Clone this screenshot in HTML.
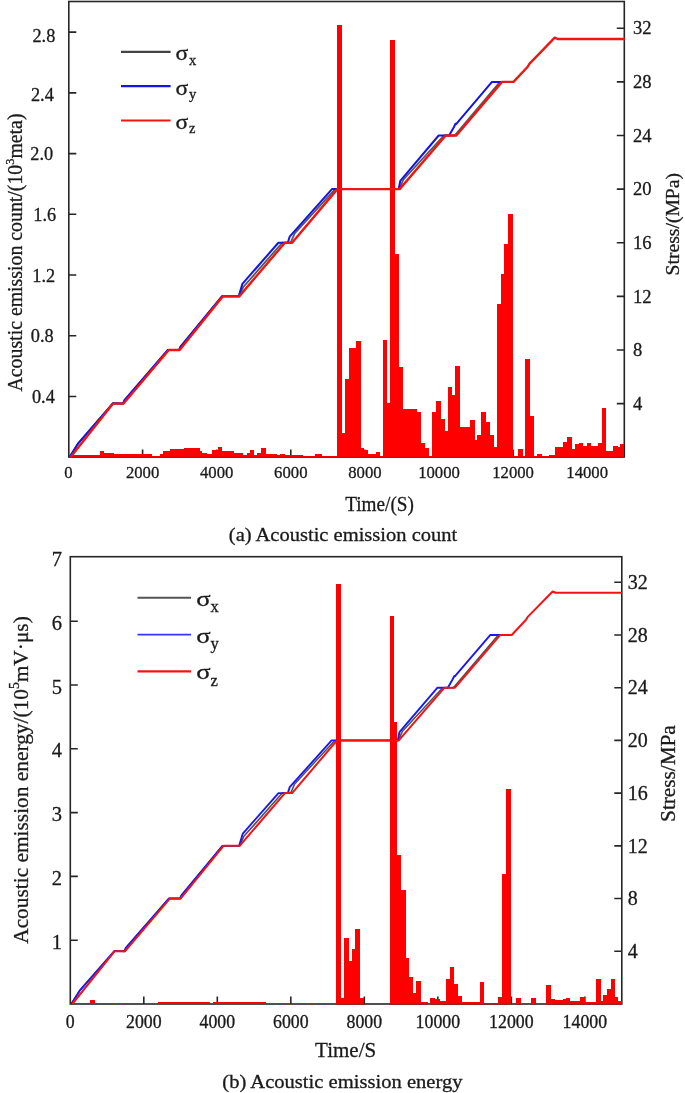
<!DOCTYPE html><html><head><meta charset="utf-8"><style>
html,body{margin:0;padding:0;background:#fff;}svg{display:block;will-change:transform;}
text{font-family:"Liberation Serif", serif;fill:#1a1a1a;stroke:#1a1a1a;stroke-width:0.3px;}
</style></head><body>
<svg width="685" height="1093" viewBox="0 0 685 1093">
<rect width="685" height="1093" fill="#fff"/>
<rect x="68.80" y="1.50" width="555.50" height="455.50" fill="none" stroke="#262626" stroke-width="1.6"/>
<path d="M142.60,457.00V449.50M216.70,457.00V449.50M290.80,457.00V449.50M364.90,457.00V449.50M439.00,457.00V449.50M513.10,457.00V449.50M587.20,457.00V449.50M68.80,396.48H76.30M68.80,335.76H76.30M68.80,275.04H76.30M68.80,214.32H76.30M68.80,153.60H76.30M68.80,92.88H76.30M68.80,32.16H76.30M624.30,403.58H616.80M624.30,349.97H616.80M624.30,296.35H616.80M624.30,242.74H616.80M624.30,189.12H616.80M624.30,135.50H616.80M624.30,81.89H616.80M624.30,28.27H616.80" stroke="#262626" stroke-width="1.6" fill="none"/>
<path d="M69.00,457.00H99.50V455.00H69.00ZM99.50,457.00H104.00V450.80H99.50ZM104.00,457.00H114.00V452.50H104.00ZM114.00,457.00H145.00V453.70H114.00ZM145.00,457.00H152.00V454.00H145.00ZM152.00,457.00H160.00V456.20H152.00ZM160.00,457.00H163.00V454.00H160.00ZM163.00,457.00H170.00V450.80H163.00ZM170.00,457.00H178.00V449.30H170.00ZM178.00,457.00H184.00V448.90H178.00ZM184.00,457.00H195.00V448.40H184.00ZM195.00,457.00H200.00V447.80H195.00ZM200.00,457.00H202.00V451.00H200.00ZM202.00,457.00H207.00V452.80H202.00ZM207.00,457.00H212.00V454.00H207.00ZM212.00,457.00H218.00V450.30H212.00ZM218.00,457.00H222.00V447.00H218.00ZM222.00,457.00H234.00V450.80H222.00ZM234.00,457.00H240.00V453.20H234.00ZM240.00,457.00H243.00V453.20H240.00ZM243.00,457.00H247.00V454.70H243.00ZM247.00,457.00H250.00V452.50H247.00ZM250.00,457.00H254.00V449.90H250.00ZM254.00,457.00H257.00V454.70H254.00ZM257.00,457.00H261.00V452.80H257.00ZM261.00,457.00H266.00V448.10H261.00ZM266.00,457.00H270.00V453.50H266.00ZM270.00,457.00H277.00V454.30H270.00ZM277.00,457.00H280.00V455.40H277.00ZM280.00,457.00H285.00V453.50H280.00ZM285.00,457.00H295.00V455.40H285.00ZM295.00,457.00H303.00V454.70H295.00ZM303.00,457.00H315.00V455.70H303.00ZM315.00,457.00H322.00V454.30H315.00ZM322.00,457.00H337.20V455.70H322.00ZM337.20,457.00H341.90V25.30H337.20ZM341.90,457.00H344.80V433.20H341.90ZM344.80,457.00H348.50V378.90H344.80ZM348.50,457.00H355.80V348.20H348.50ZM355.80,457.00H360.50V341.00H355.80ZM360.50,457.00H363.80V448.40H360.50ZM363.80,457.00H368.20V450.40H363.80ZM368.20,457.00H375.50V454.00H368.20ZM375.50,457.00H380.00V452.30H375.50ZM380.00,457.00H382.80V455.50H380.00ZM382.80,457.00H387.40V339.90H382.80ZM387.40,457.00H390.00V402.70H387.40ZM390.00,457.00H395.20V40.10H390.00ZM395.20,457.00H398.80V253.90H395.20ZM398.80,457.00H402.50V366.50H398.80ZM402.50,457.00H408.00V408.90H402.50ZM408.00,457.00H416.50V409.10H408.00ZM416.50,457.00H421.00V411.90H416.50ZM421.00,457.00H424.60V442.60H421.00ZM424.60,457.00H428.50V448.00H424.60ZM428.50,457.00H431.70V455.80H428.50ZM431.70,457.00H435.50V411.90H431.70ZM435.50,457.00H440.50V400.90H435.50ZM440.50,457.00H444.50V418.50H440.50ZM444.50,457.00H447.50V430.50H444.50ZM447.50,457.00H451.70V386.60H447.50ZM451.70,457.00H455.00V395.40H451.70ZM455.00,457.00H459.60V365.80H455.00ZM459.60,457.00H470.00V427.00H459.60ZM470.00,457.00H474.50V420.10H470.00ZM474.50,457.00H477.30V440.40H474.50ZM477.30,457.00H481.30V434.90H477.30ZM481.30,457.00H486.00V411.90H481.30ZM486.00,457.00H489.60V422.30H486.00ZM489.60,457.00H493.50V434.90H489.60ZM493.50,457.00H496.80V447.30H493.50ZM496.80,457.00H500.50V304.30H496.80ZM500.50,457.00H504.30V274.40H500.50ZM504.30,457.00H508.00V244.00H504.30ZM508.00,457.00H512.60V213.50H508.00ZM512.60,457.00H518.00V456.30H512.60ZM518.00,457.00H522.60V448.60H518.00ZM522.60,457.00H525.00V455.80H522.60ZM525.00,457.00H530.00V358.70H525.00ZM530.00,457.00H533.80V415.70H530.00ZM533.80,457.00H537.00V455.80H533.80ZM537.00,457.00H541.50V454.10H537.00ZM541.50,457.00H549.00V455.50H541.50ZM549.00,457.00H555.00V455.00H549.00ZM555.00,457.00H563.00V447.00H555.00ZM563.00,457.00H567.00V442.00H563.00ZM567.00,457.00H572.00V437.10H567.00ZM572.00,457.00H575.00V449.00H572.00ZM575.00,457.00H578.50V443.70H575.00ZM578.50,457.00H583.00V442.60H578.50ZM583.00,457.00H586.50V445.50H583.00ZM586.50,457.00H590.50V442.60H586.50ZM590.50,457.00H597.50V446.30H590.50ZM597.50,457.00H601.50V443.10H597.50ZM601.50,457.00H606.20V408.20H601.50ZM606.20,457.00H612.50V451.00H606.20ZM612.50,457.00H618.00V445.50H612.50ZM618.00,457.00H620.00V447.00H618.00ZM620.00,457.00H624.00V444.00H620.00Z" fill="#ff0000" shape-rendering="crispEdges"/>
<path d="M69.00,457.30H624.00" stroke="rgba(200,0,0,0.55)" stroke-width="1.4"/>
<path d="M69.50,457.20 L78.21,443.33 L113.07,403.18 L123.00,403.58 L124.48,400.23 L167.83,349.97 L179.09,349.97 L180.58,346.62 L221.92,296.35 L239.23,296.35 L243.30,286.97 L282.20,242.74 L290.61,242.74 L294.69,233.35 L335.19,189.12 L399.28,189.12 L403.36,179.74 L443.85,135.50 L454.64,135.50 L499.98,81.89 L501.99,81.89" fill="none" stroke="#585858" stroke-width="1.8" stroke-linejoin="round"/>
<path d="M69.50,457.20 L78.21,443.33 L113.07,403.18 L123.00,403.58 L124.48,400.23 L167.83,349.97 L179.09,349.97 L180.58,346.62 L221.92,296.35 L238.71,296.35 L242.41,283.89 L278.39,242.74 L287.80,242.74 L289.65,236.70 L331.96,189.12 L398.65,189.12 L400.32,180.81 L438.67,135.50 L449.11,135.50 L453.82,127.19 L455.52,123.71 L456.12,124.11 L491.98,81.89 L501.99,81.89" fill="none" stroke="#1414e6" stroke-width="2.0" stroke-linejoin="round"/>
<path d="M70.50,457.20 L113.07,403.58 L123.56,403.58 L168.83,349.97 L179.65,349.97 L222.92,296.35 L239.23,296.35 L284.91,242.74 L292.10,242.74 L337.37,189.12 L399.65,189.12 L445.71,135.50 L456.34,135.50 L501.99,81.89 L513.51,81.89 L527.92,66.47 L529.40,63.79 L554.74,37.65 L557.67,39.00 L624.77,39.00" fill="none" stroke="#ee1515" stroke-width="2.4" stroke-linejoin="round"/>
<text x="54.80" y="403.18" font-size="18.3" text-anchor="end">0.4</text>
<text x="53.70" y="342.46" font-size="18.3" text-anchor="end">0.8</text>
<text x="55.20" y="281.74" font-size="18.3" text-anchor="end">1.2</text>
<text x="56.20" y="221.02" font-size="18.3" text-anchor="end">1.6</text>
<text x="53.20" y="160.30" font-size="18.3" text-anchor="end">2.0</text>
<text x="53.80" y="101.18" font-size="18.3" text-anchor="end">2.4</text>
<text x="55.30" y="41.56" font-size="18.3" text-anchor="end">2.8</text>
<text x="633.00" y="409.78" font-size="18.6">4</text>
<text x="633.00" y="356.17" font-size="18.6">8</text>
<text x="633.00" y="302.55" font-size="18.6">12</text>
<text x="633.00" y="248.94" font-size="18.6">16</text>
<text x="633.00" y="195.32" font-size="18.6">20</text>
<text x="633.00" y="141.70" font-size="18.6">24</text>
<text x="633.00" y="88.09" font-size="18.6">28</text>
<text x="633.00" y="34.47" font-size="18.6">32</text>
<text x="68.50" y="477.70" font-size="16.7" text-anchor="middle">0</text>
<text x="142.60" y="477.70" font-size="16.7" text-anchor="middle">2000</text>
<text x="216.70" y="477.70" font-size="16.7" text-anchor="middle">4000</text>
<text x="290.80" y="477.70" font-size="16.7" text-anchor="middle">6000</text>
<text x="364.90" y="477.70" font-size="16.7" text-anchor="middle">8000</text>
<text x="439.00" y="477.70" font-size="16.7" text-anchor="middle">10000</text>
<text x="513.10" y="477.70" font-size="16.7" text-anchor="middle">12000</text>
<text x="587.20" y="477.70" font-size="16.7" text-anchor="middle">14000</text>
<path d="M121.00,51.90H170.60" stroke="#444" stroke-width="2.2"/>
<text transform="translate(175.50,60.20) scale(1.18,1)" font-size="20">σ</text>
<text x="189.00" y="64.80" font-size="14.5">x</text>
<path d="M121.00,86.20H170.60" stroke="#1414e6" stroke-width="2.2"/>
<text transform="translate(175.50,94.50) scale(1.18,1)" font-size="20">σ</text>
<text x="189.00" y="99.10" font-size="14.5">y</text>
<path d="M121.00,120.50H170.60" stroke="#ee1515" stroke-width="2.2"/>
<text transform="translate(175.50,128.80) scale(1.18,1)" font-size="20">σ</text>
<text x="189.00" y="133.40" font-size="14.5">z</text>
<text transform="translate(22,391.5) rotate(-90)" font-size="20" textLength="278" lengthAdjust="spacingAndGlyphs">Acoustic emission count/(10<tspan font-size="12.5" dy="-8.5">3</tspan><tspan dy="8.5">meta)</tspan></text>
<text transform="translate(679,275.4) rotate(-90)" font-size="19.6" textLength="102.4" lengthAdjust="spacingAndGlyphs">Stress/(MPa)</text>
<text x="345.2" y="511.1" font-size="20" textLength="68.7" lengthAdjust="spacingAndGlyphs">Time/(S)</text>
<text x="228.8" y="540.9" font-size="19.5" textLength="228.4" lengthAdjust="spacingAndGlyphs">(a) Acoustic emission count</text>
<rect x="70.30" y="556.70" width="551.50" height="447.30" fill="none" stroke="#262626" stroke-width="1.6"/>
<path d="M143.81,1004.00V996.50M217.31,1004.00V996.50M290.82,1004.00V996.50M364.32,1004.00V996.50M437.83,1004.00V996.50M511.34,1004.00V996.50M584.84,1004.00V996.50M70.30,940.20H77.80M70.30,876.40H77.80M70.30,812.60H77.80M70.30,748.80H77.80M70.30,685.00H77.80M70.30,621.20H77.80M621.80,951.28H614.30M621.80,898.56H614.30M621.80,845.84H614.30M621.80,793.12H614.30M621.80,740.40H614.30M621.80,687.68H614.30M621.80,634.96H614.30M621.80,582.24H614.30" stroke="#262626" stroke-width="1.6" fill="none"/>
<path d="M72.00,1004.00H90.00V1002.60H72.00ZM90.00,1004.00H95.00V1000.40H90.00ZM95.00,1004.00H102.00V1002.60H95.00ZM102.00,1004.00H108.00V1003.20H102.00ZM108.00,1004.00H112.00V1002.60H108.00ZM124.00,1004.00H128.00V1002.60H124.00ZM158.00,1004.00H210.00V1002.30H158.00ZM213.00,1004.00H266.00V1002.40H213.00ZM276.00,1004.00H282.00V1003.00H276.00ZM300.00,1004.00H306.00V1003.00H300.00ZM318.00,1004.00H326.00V1003.00H318.00ZM336.40,1004.00H341.30V583.70H336.40ZM341.30,1004.00H344.00V997.50H341.30ZM344.00,1004.00H348.50V938.00H344.00ZM348.50,1004.00H351.60V960.70H348.50ZM351.60,1004.00H355.00V949.00H351.60ZM355.00,1004.00H359.80V929.00H355.00ZM359.80,1004.00H364.00V998.10H359.80ZM389.50,1004.00H394.00V616.20H389.50ZM394.00,1004.00H397.20V721.60H394.00ZM397.20,1004.00H401.30V854.50H397.20ZM401.30,1004.00H405.50V889.70H401.30ZM405.50,1004.00H409.20V957.60H405.50ZM409.20,1004.00H412.50V977.40H409.20ZM412.50,1004.00H415.80V993.30H412.50ZM415.80,1004.00H420.50V981.00H415.80ZM420.50,1004.00H428.00V1001.50H420.50ZM430.00,1004.00H435.00V997.70H430.00ZM435.00,1004.00H440.00V999.30H435.00ZM440.00,1004.00H445.50V1000.70H440.00ZM445.50,1004.00H449.50V978.50H445.50ZM449.50,1004.00H453.50V966.60H449.50ZM453.50,1004.00H457.50V984.30H453.50ZM457.50,1004.00H461.50V996.40H457.50ZM461.50,1004.00H479.50V1002.00H461.50ZM479.50,1004.00H484.00V982.10H479.50ZM484.00,1004.00H498.00V1002.50H484.00ZM498.00,1004.00H502.00V997.00H498.00ZM502.00,1004.00H506.00V874.20H502.00ZM506.00,1004.00H510.70V788.80H506.00ZM516.00,1004.00H521.30V997.80H516.00ZM531.00,1004.00H536.00V997.60H531.00ZM546.00,1004.00H551.00V985.40H546.00ZM551.00,1004.00H555.00V998.50H551.00ZM555.00,1004.00H562.50V1000.20H555.00ZM562.50,1004.00H565.50V999.40H562.50ZM565.50,1004.00H570.00V997.80H565.50ZM570.00,1004.00H580.30V1001.30H570.00ZM580.30,1004.00H584.50V997.40H580.30ZM584.50,1004.00H595.50V1001.70H584.50ZM595.50,1004.00H600.50V979.20H595.50ZM600.50,1004.00H603.20V1001.30H600.50ZM603.20,1004.00H607.30V995.30H603.20ZM607.30,1004.00H610.70V989.20H607.30ZM610.70,1004.00H614.50V979.40H610.70ZM614.50,1004.00H618.30V997.10H614.50ZM618.30,1004.00H621.50V1001.30H618.30Z" fill="#ff0000" shape-rendering="crispEdges"/>
<path d="M336.00,1004.30H365.00" stroke="rgba(200,0,0,0.55)" stroke-width="1.4"/>
<path d="M389.00,1004.30H428.00" stroke="rgba(200,0,0,0.55)" stroke-width="1.4"/>
<path d="M430.00,1004.30H510.70" stroke="rgba(200,0,0,0.55)" stroke-width="1.4"/>
<path d="M516.00,1004.30H521.30" stroke="rgba(200,0,0,0.55)" stroke-width="1.4"/>
<path d="M531.00,1004.30H536.00" stroke="rgba(200,0,0,0.55)" stroke-width="1.4"/>
<path d="M546.00,1004.30H621.50" stroke="rgba(200,0,0,0.55)" stroke-width="1.4"/>
<path d="M71.29,1004.00 L79.93,990.36 L114.51,950.88 L124.36,951.28 L125.83,947.99 L168.83,898.56 L180.01,898.56 L181.48,895.26 L222.49,845.84 L239.66,845.84 L243.70,836.61 L282.29,793.12 L290.63,793.12 L294.68,783.89 L334.85,740.40 L398.43,740.40 L402.47,731.17 L442.64,687.68 L453.34,687.68 L498.33,634.96 L500.31,634.96" fill="none" stroke="#505050" stroke-width="1.5" stroke-linejoin="round"/>
<path d="M71.29,1004.00 L79.93,990.36 L114.51,950.88 L124.36,951.28 L125.83,947.99 L168.83,898.56 L180.01,898.56 L181.48,895.26 L222.49,845.84 L239.14,845.84 L242.82,833.58 L278.51,793.12 L287.84,793.12 L289.68,787.19 L331.65,740.40 L397.81,740.40 L399.46,732.23 L437.50,687.68 L447.86,687.68 L452.53,679.51 L454.22,676.08 L454.81,676.48 L490.39,634.96 L500.31,634.96" fill="none" stroke="#1a1aee" stroke-width="1.9" stroke-linejoin="round"/>
<path d="M72.28,1004.00 L114.51,951.28 L124.91,951.28 L169.83,898.56 L180.56,898.56 L223.49,845.84 L239.66,845.84 L284.97,793.12 L292.10,793.12 L337.02,740.40 L398.80,740.40 L444.48,687.68 L455.03,687.68 L500.31,634.96 L511.74,634.96 L526.04,619.80 L527.51,617.17 L552.65,591.47 L555.55,592.78 L622.11,592.78" fill="none" stroke="#f01414" stroke-width="2.0" stroke-linejoin="round"/>
<text x="62.00" y="948.80" font-size="20.5" text-anchor="end">1</text>
<text x="62.00" y="885.00" font-size="20.5" text-anchor="end">2</text>
<text x="62.00" y="821.20" font-size="20.5" text-anchor="end">3</text>
<text x="62.00" y="757.40" font-size="20.5" text-anchor="end">4</text>
<text x="62.00" y="693.60" font-size="20.5" text-anchor="end">5</text>
<text x="62.00" y="629.80" font-size="20.5" text-anchor="end">6</text>
<text x="62.00" y="565.50" font-size="20.5" text-anchor="end">7</text>
<text x="627.70" y="958.08" font-size="20">4</text>
<text x="627.70" y="905.36" font-size="20">8</text>
<text x="627.70" y="852.64" font-size="20">12</text>
<text x="627.70" y="799.92" font-size="20">16</text>
<text x="627.70" y="747.20" font-size="20">20</text>
<text x="627.70" y="694.48" font-size="20">24</text>
<text x="627.70" y="641.76" font-size="20">28</text>
<text x="627.70" y="589.04" font-size="20">32</text>
<text x="70.30" y="1027.80" font-size="17.8" text-anchor="middle">0</text>
<text x="143.81" y="1027.80" font-size="17.8" text-anchor="middle">2000</text>
<text x="217.31" y="1027.80" font-size="17.8" text-anchor="middle">4000</text>
<text x="290.82" y="1027.80" font-size="17.8" text-anchor="middle">6000</text>
<text x="364.32" y="1027.80" font-size="17.8" text-anchor="middle">8000</text>
<text x="437.83" y="1027.80" font-size="17.8" text-anchor="middle">10000</text>
<text x="511.34" y="1027.80" font-size="17.8" text-anchor="middle">12000</text>
<text x="584.84" y="1027.80" font-size="17.8" text-anchor="middle">14000</text>
<path d="M137.50,597.80H191.00" stroke="#555" stroke-width="2.0"/>
<text transform="translate(196.20,605.80) scale(1.3,1)" font-size="20.5">σ</text>
<text x="210.60" y="611.90" font-size="16.5">x</text>
<path d="M137.50,634.60H191.00" stroke="#3535ff" stroke-width="1.6"/>
<text transform="translate(196.20,642.60) scale(1.3,1)" font-size="20.5">σ</text>
<text x="210.60" y="648.70" font-size="16.5">y</text>
<path d="M137.50,671.40H191.00" stroke="#f01414" stroke-width="2.2"/>
<text transform="translate(196.20,679.40) scale(1.3,1)" font-size="20.5">σ</text>
<text x="210.60" y="685.50" font-size="16.5">z</text>
<text transform="translate(27.5,943.8) rotate(-90)" font-size="22" textLength="327.6" lengthAdjust="spacingAndGlyphs">Acoustic emission energy/(10<tspan font-size="14" dy="-9">5</tspan><tspan dy="9">mV·μs)</tspan></text>
<text transform="translate(675,821.9) rotate(-90)" font-size="21" textLength="96.7" lengthAdjust="spacingAndGlyphs">Stress/MPa</text>
<text x="315.1" y="1057.2" font-size="22" textLength="61.1" lengthAdjust="spacingAndGlyphs">Time/S</text>
<text x="222.3" y="1088.3" font-size="19.8" textLength="240.2" lengthAdjust="spacingAndGlyphs">(b) Acoustic emission energy</text>
</svg></body></html>
